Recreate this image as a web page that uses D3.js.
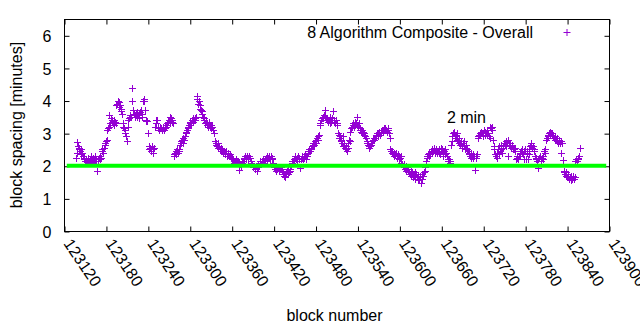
<!DOCTYPE html>
<html>
<head>
<meta charset="utf-8">
<script src="https://cdn.jsdelivr.net/npm/d3@7/dist/d3.min.js"></script>
<style>
html, body { margin: 0; padding: 0; background: #fff; }
svg text { font-family: "Liberation Sans", Arial, sans-serif; font-size: 16px; fill: #000; }
</style>
</head>
<body>
<svg id="chart" width="640" height="330"></svg>
<script>
// ---- data ----
const seriesName = "8 Algorithm Composite - Overall";
const firstBlock = 123137; // block number of first value; one value per consecutive block
const spacing = [
  2.25, 2.4, 2.72, 2.6, 2.55, 2.5,
  2.45, 2.5, 2.35, 2.4, 2.3, 2.2, 2.25, 2.15, 2.2,
  2.2, 2.15, 2.25, 2.2, 2.1, 2.2, 2.3, 2.15, 2.2, 2.25, 2.1, 2.2, 2.15, 2.3, 2.2,
  1.84, 2.2, 2.15, 2.25, 2.2, 2.3, 2.25,
  2.45, 2.5, 2.4, 2.55, 2.7, 2.65, 2.75, 2.8,
  3.1, 3.15, 3.55, 3.2, 3.3, 3.45, 3.4,
  3.35, 3.3, 3.4, 3.25, 3.35, 3.3,
  3.85, 3.9, 4.0, 3.8, 3.95, 3.85, 3.75,
  3.67, 3.6, 3.3, 3.2,
  3.15, 3.1, 3.0, 2.9,
  2.75, 3.2, 3.4, 3.45, 3.5, 3.55,
  3.5, 4.38, 4.0, 3.7,
  3.6, 3.5, 3.55, 3.6, 3.65, 3.5, 3.55, 3.6, 3.45, 3.65, 3.7, 3.6, 3.5, 4.0,
  4.05, 4.0, 3.7, 3.4, 3.37,
  3.37, 3.0, 2.6, 2.5,
  2.55, 2.5, 2.45, 2.6, 2.5, 2.4, 2.55,
  3.2, 3.4, 3.3, 3.4, 3.2, 3.15, 3.1, 3.15, 3.2,
  3.15, 3.1, 3.2, 3.15, 3.1, 3.2, 3.15, 3.2, 3.25, 3.3, 3.35,
  3.4, 3.5, 3.3, 3.45, 3.4, 3.35, 3.3,
  2.35, 2.3, 2.4, 2.45, 2.35, 2.5, 2.4, 2.45, 2.5,
  2.65, 2.7, 2.75, 2.8, 2.7, 2.85, 2.8, 2.9, 3.0, 3.05, 3.1, 3.15, 3.2,
  3.25, 3.3, 3.35, 3.3, 3.4, 3.35, 3.45, 3.4, 3.45, 3.4, 3.5,
  4.13, 4.05, 3.9, 4.0, 3.85, 3.75, 3.7, 3.67, 3.6, 3.5,
  3.4, 3.45, 3.3, 3.35, 3.25, 3.3, 3.2, 3.35, 3.3, 3.2, 3.15, 3.25, 3.2, 3.1, 3.0,
  3.0, 2.75, 2.7, 2.65, 2.6, 2.7, 2.55, 2.6, 2.5, 2.45, 2.55, 2.5, 2.45, 2.4, 2.45,
  2.4, 2.35, 2.45, 2.3, 2.35, 2.4, 2.3, 2.35, 2.3, 2.25, 2.2, 2.25, 2.2,
  2.15, 2.1, 2.15, 2.2, 2.15, 2.1, 2.15, 1.87, 2.1, 2.05, 2.0, 2.05, 2.1, 2.15, 2.2,
  2.25, 2.3, 2.2, 2.25, 2.3, 2.25, 2.2, 2.3, 2.25, 2.15, 2.1,
  2.05, 2.0, 1.95, 2.0, 1.9, 1.95, 2.0, 1.85, 1.95, 2.05, 2.0, 2.1, 2.15, 2.05, 2.1, 2.15, 2.2, 2.1, 2.15,
  2.2, 2.25, 2.3, 2.2, 2.25, 2.3, 2.25, 2.2, 2.3, 2.25, 2.2, 2.1, 2.0, 1.95,
  1.9, 1.95, 1.85, 1.9, 1.95, 1.9, 1.85, 1.9, 1.95, 1.9, 1.85,
  1.8, 1.75, 1.7, 1.65, 1.75, 1.8, 1.85, 1.75, 1.9, 1.8, 1.85, 1.9, 2.0, 2.1, 2.15,
  2.15, 2.2, 2.25, 2.3, 2.2, 2.25, 2.15, 2.3, 2.2, 2.25, 1.93, 2.2, 2.3, 2.25, 2.2, 2.3, 2.25, 2.35, 2.3, 2.2, 2.3,
  2.4, 2.45, 2.5, 2.45, 2.55, 2.5, 2.6, 2.65,
  2.7, 2.65, 2.75, 2.8, 2.7, 2.85, 2.8, 2.9, 2.95,
  3.25, 3.3, 3.4, 3.45, 3.5, 3.45, 3.55, 3.7, 3.5, 3.45,
  3.4, 3.45, 3.35, 3.4, 3.5, 3.3, 3.35, 3.4, 3.45, 3.67, 3.4, 3.35, 3.3, 3.4, 3.3, 3.25,
  3.0, 2.95, 2.85, 2.9, 2.75, 2.8, 2.7, 2.6, 2.9, 2.65, 2.55, 2.6, 2.5, 2.45, 2.55, 2.7, 2.8, 2.75,
  3.05, 3.15, 3.2, 3.25, 3.3, 3.2, 3.25, 3.35, 3.3, 3.5, 3.25, 3.2, 3.3, 3.15, 3.1,
  3.05, 3.0, 3.1, 3.05, 3.0, 2.95, 2.9, 2.85, 2.75, 2.7,
  2.65, 2.6, 2.55, 2.6, 2.65, 2.7, 2.75, 2.8, 2.85, 2.8,
  2.85, 2.9, 2.95, 3.0, 2.9, 3.0, 3.05, 2.95, 3.0, 3.05, 3.1, 3.05, 3.1,
  3.15, 3.1, 3.15, 3.1, 3.05, 3.15, 3.1, 3.0, 2.85,
  2.5, 2.45, 2.4, 2.45, 2.35, 2.4, 2.3, 2.35, 2.4, 2.3, 2.25, 2.35, 2.3, 2.2, 2.25, 2.3,
  2.1, 2.05, 2.0, 1.95, 2.05, 1.9, 2.0, 1.85, 1.95, 1.9,
  1.85, 1.8, 1.75, 1.85, 1.7, 1.8, 1.75, 1.65, 1.7, 1.8, 1.6, 1.75, 1.65, 1.7, 1.6, 1.55, 1.65, 1.7, 1.48, 1.6, 1.75, 1.7, 1.8, 1.85, 1.95,
  2.15, 2.25, 2.3, 2.35, 2.3, 2.4, 2.35, 2.45, 2.4, 2.5, 2.45, 2.55, 2.5, 2.4, 2.45, 2.5, 2.4,
  2.45, 2.5, 2.4, 2.35, 2.45, 2.55, 2.5, 2.4, 2.3, 2.45, 2.5, 2.35, 2.4, 2.3, 2.2,
  2.15, 2.2, 2.1, 2.15, 2.65, 2.75, 2.9,
  3.0, 3.05, 2.95, 2.85, 2.9, 3.0, 2.8, 2.75, 2.85, 2.7, 2.65, 2.75, 2.6, 2.55,
  2.7, 2.6, 2.75, 2.5, 2.65, 2.55, 2.5, 2.45,
  2.4, 2.35, 2.3, 2.25, 2.4, 2.3, 2.35, 2.25, 2.3, 1.87, 2.3, 2.25, 2.35,
  2.85, 2.9, 2.95, 3.0, 2.95, 3.05, 3.0, 2.9, 3.0, 3.1, 2.95, 3.05, 3.0, 2.95, 3.1, 3.0, 2.9, 2.85,
  3.2, 3.15, 3.2, 3.1, 2.8, 2.6, 2.5, 2.35,
  2.3, 2.4, 2.25, 2.5, 2.35, 2.6, 2.45, 2.65, 2.5, 2.4, 2.55, 2.6, 2.7,
  2.65, 2.75, 2.6, 2.7, 2.3, 2.8, 2.65, 2.7, 2.6, 2.55, 2.65, 2.5, 2.55,
  2.5, 2.45, 2.55, 2.2, 2.3, 2.25, 2.2, 2.3,
  2.35, 2.4, 2.45, 2.5, 2.4, 2.35, 2.2, 2.45, 2.5, 2.2, 2.4, 2.45, 2.2, 2.35,
  2.5, 2.6, 2.65, 2.7, 2.55, 2.6, 2.5, 2.45,
  2.3, 2.2, 2.25, 2.15, 1.93, 2.2, 2.25, 2.3, 2.2, 2.15, 2.25, 2.2, 2.3, 2.45, 2.4, 2.5,
  2.8, 2.85, 2.9, 2.95, 3.0, 2.95, 3.05, 3.0, 2.95, 3.0, 2.9, 2.85, 2.9, 2.8,
  2.8, 2.75, 2.85, 2.7, 2.8, 2.75, 2.7, 2.4, 2.75, 2.7,
  2.17, 1.85, 1.8, 1.75, 1.7, 1.8, 1.65, 1.7, 1.75, 1.6, 1.65, 1.7, 1.55, 1.6, 1.65, 1.7, 1.6, 1.65,
  2.15, 2.2, 2.15, 2.25, 2.2, 2.3, 2.55
];
const targetMinutes = 2;          // reference line value
const targetLabel = "2 min";
const targetStartBlock = 123124, targetEndBlock = 123896;
const labelBlock = 123668, labelValue = 3.5;
const xTicks = [123120, 123180, 123240, 123300, 123360, 123420, 123480, 123540, 123600, 123660, 123720, 123780, 123840, 123900];
const yTicks = [0, 1, 2, 3, 4, 5, 6];
const xDomain = [123120, 123900];
const yDomain = [0, 6.5];

// ---- layout ----
const L = 64, R = 609, T = 19, B = 231;
const purple = "#9400d3";
const svg = d3.select("#chart");
const x = d3.scaleLinear().domain(xDomain).range([L, R]);
const y = d3.scaleLinear().domain(yDomain).range([B, T]);

const points = spacing.map((v, i) => ({ block: firstBlock + i, v }));

// axes (ticks inward, mirrored)
const gx = svg.append("g").attr("transform", `translate(0.5,${B + 0.5})`)
  .call(d3.axisBottom(x).tickValues(xTicks).tickSizeInner(-5).tickSizeOuter(0).tickFormat(d3.format("d")));
gx.select(".domain").remove();
gx.selectAll("text")
  .attr("text-anchor", "start")
  .attr("x", null).attr("y", null).attr("dy", null)
  .attr("transform", "translate(-2,12) rotate(56)");
const gxt = svg.append("g").attr("transform", `translate(0.5,${T + 0.5})`)
  .call(d3.axisTop(x).tickValues(xTicks).tickSizeInner(-5).tickSizeOuter(0).tickFormat(""));
gxt.select(".domain").remove();

const gy = svg.append("g").attr("transform", `translate(${L + 0.5},0.5)`)
  .call(d3.axisLeft(y).tickValues(yTicks).tickSizeInner(-5).tickSizeOuter(0).tickFormat(d3.format("d")));
gy.select(".domain").remove();
gy.selectAll("text").attr("x", -13).attr("dy", "0.35em");
const gyr = svg.append("g").attr("transform", `translate(${R + 0.5},0.5)`)
  .call(d3.axisRight(y).tickValues(yTicks).tickSizeInner(-5).tickSizeOuter(0).tickFormat(""));
gyr.select(".domain").remove();
svg.selectAll(".tick line").attr("stroke", "#000");
svg.selectAll(".tick text").style("font-family", '"Liberation Sans", Arial, sans-serif').style("font-size", "16px");

// border
svg.append("rect").attr("x", L + 0.5).attr("y", T + 0.5)
  .attr("width", R - L).attr("height", B - T)
  .attr("fill", "none").attr("stroke", "#000").attr("stroke-width", 1);

// points as "+" glyphs
const s = 3.5;
svg.append("g").selectAll("path").data(points).join("path")
  .attr("d", d => {
    const cx = Math.round(x(d.block)) + 0.5, cy = Math.round(y(d.v)) + 0.5;
    return `M${cx - s},${cy}H${cx + s}M${cx},${cy - s}V${cy + s}`;
  })
  .attr("stroke", purple).attr("stroke-width", 1).attr("fill", "none");

// target line
svg.append("line")
  .attr("x1", x(targetStartBlock)).attr("x2", x(targetEndBlock))
  .attr("y1", y(targetMinutes)).attr("y2", y(targetMinutes))
  .attr("stroke", "#00ff00").attr("stroke-width", 4);

svg.append("text").attr("x", x(labelBlock)).attr("y", y(labelValue) + 6).text(targetLabel);

// legend
svg.append("text").attr("x", 533).attr("y", 38).attr("text-anchor", "end").text(seriesName);
svg.append("path").attr("d", `M${563.5},${32.5}H${570.5}M${567},${29}V${36}`)
  .attr("stroke", purple).attr("stroke-width", 1);

// axis titles
svg.append("text").attr("transform", `translate(22,${(T + B) / 2}) rotate(-90)`)
  .attr("text-anchor", "middle").text("block spacing [minutes]");
svg.append("text").attr("x", (L + R) / 2 - 2).attr("y", 321)
  .attr("text-anchor", "middle").text("block number");
</script>
</body>
</html>
